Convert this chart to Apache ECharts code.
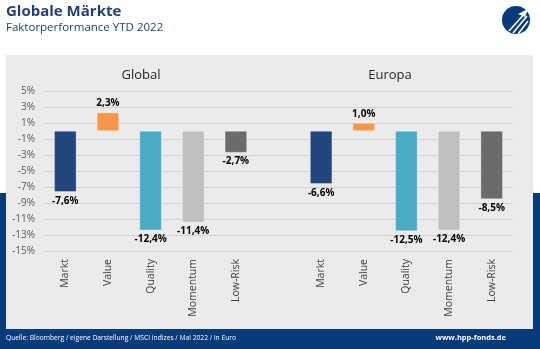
<!DOCTYPE html>
<html><head><meta charset="utf-8">
<script src="https://cdn.jsdelivr.net/npm/echarts@6/dist/echarts.min.js"></script>
<style>html,body{margin:0;padding:0;background:#fff}#c{width:540px;height:349px}</style>
</head><body><div id="c"></div>
<script>
var factors = ['Markt', 'Value', 'Quality', 'Momentum', 'Low-Risk'];
var globalValues = [-7.6, 2.3, -12.4, -11.4, -2.7];
var europeValues = [-6.6, 1.0, -12.5, -12.4, -8.5];
var factorColors = ['#1f477b', '#f79646', '#4bacc6', '#bfbfbf', '#6b6b6b'];
var groupTitles = ['Global', 'Europa'];
var yTicks = {min: -15, max: 5, interval: 2};

var categories = factors.concat(['']).concat(factors);
var data = [];
globalValues.forEach(function (v, i) { data.push({value: v, itemStyle: {color: factorColors[i]}}); });
data.push('-');
europeValues.forEach(function (v, i) { data.push({value: v, itemStyle: {color: factorColors[i]}}); });
data = data.map(function (d) {
  if (d === '-') return d;
  d.label = {position: d.value >= 0 ? 'top' : 'bottom'};
  return d;
});

var blue = '#063b7c';
var font = '"Open Sans", "Noto Sans", sans-serif';
var chart = echarts.init(document.getElementById('c'), null, {renderer: 'canvas'});
chart.setOption({
  animation: false,
  backgroundColor: '#fff',
  textStyle: {fontFamily: font},
  graphic: [
    {type: 'rect', z: -10, shape: {x: 0, y: 193, width: 540, height: 156}, style: {fill: blue}, silent: true},
    {type: 'rect', z: -9, shape: {x: 6, y: 55, width: 527, height: 274}, style: {fill: '#ebebeb'}, silent: true},
    {type: 'text', left: 6, top: 4, style: {text: 'Globale Märkte', font: 'bold 15px ' + font, fill: '#1f3f7a'}},
    {type: 'text', left: 6, top: 22, style: {text: 'Faktorperformance YTD 2022', font: '11.5px ' + font, fill: '#1f3f7a'}},
    {type: 'text', left: 6, top: 335, style: {text: 'Quelle: Bloomberg / eigene Darstellung / MSCI Indizes / Mai 2022 / in Euro', font: '6.7px ' + font, fill: '#fff'}},
    {type: 'text', right: 34, top: 334, style: {text: 'www.hpp-fonds.de', font: 'bold 7.5px ' + font, fill: '#fff'}},
    {type: 'text', x: 141, y: 75, style: {text: groupTitles[0], font: '13px ' + font, fill: '#262626', align: 'center', verticalAlign: 'middle'}},
    {type: 'text', x: 390, y: 75, style: {text: groupTitles[1], font: '13px ' + font, fill: '#262626', align: 'center', verticalAlign: 'middle'}},
    {type: 'circle', shape: {cx: 516, cy: 20, r: 14}, style: {fill: blue}},
    {type: 'polygon', shape: {points: [[518, 14], [528, 9], [525, 17]]}, style: {fill: '#fff'}},
    {type: 'line', shape: {x1: 509, y1: 31, x2: 526, y2: 12}, style: {stroke: '#fff', lineWidth: 1.6}},
    {type: 'line', shape: {x1: 513, y1: 33, x2: 527, y2: 16}, style: {stroke: '#fff', lineWidth: 1.6}},
    {type: 'line', shape: {x1: 518, y1: 34, x2: 528, y2: 21}, style: {stroke: '#fff', lineWidth: 1.6}}
  ],
  grid: {left: 44, right: 27, top: 91, bottom: 98, containLabel: false},
  xAxis: {
    type: 'category', data: categories, position: 'bottom',
    axisLine: {show: false}, axisTick: {show: false},
    axisLabel: {rotate: 90, interval: 0, fontSize: 10.5, color: '#404040', margin: 8, fontFamily: font}
  },
  yAxis: {
    type: 'value', min: yTicks.min, max: yTicks.max, interval: yTicks.interval,
    axisLine: {show: false}, axisTick: {show: false},
    axisLabel: {formatter: function (v) { return v + '%'; }, fontSize: 10, color: '#595959', margin: 9, fontFamily: font},
    splitLine: {lineStyle: {color: '#d2d2d2', width: 1}}
  },
  series: [{
    type: 'bar', data: data, barWidth: '52%',
    itemStyle: {borderColor: 'rgba(255,255,255,0.5)', borderWidth: 0.6},
    label: {show: true, fontSize: 10, fontWeight: 'bold', color: '#000', distance: 4, fontFamily: font,
      formatter: function (p) { return p.value.toFixed(1).replace('.', ',') + '%'; }}
  }]
});
</script></body></html>
